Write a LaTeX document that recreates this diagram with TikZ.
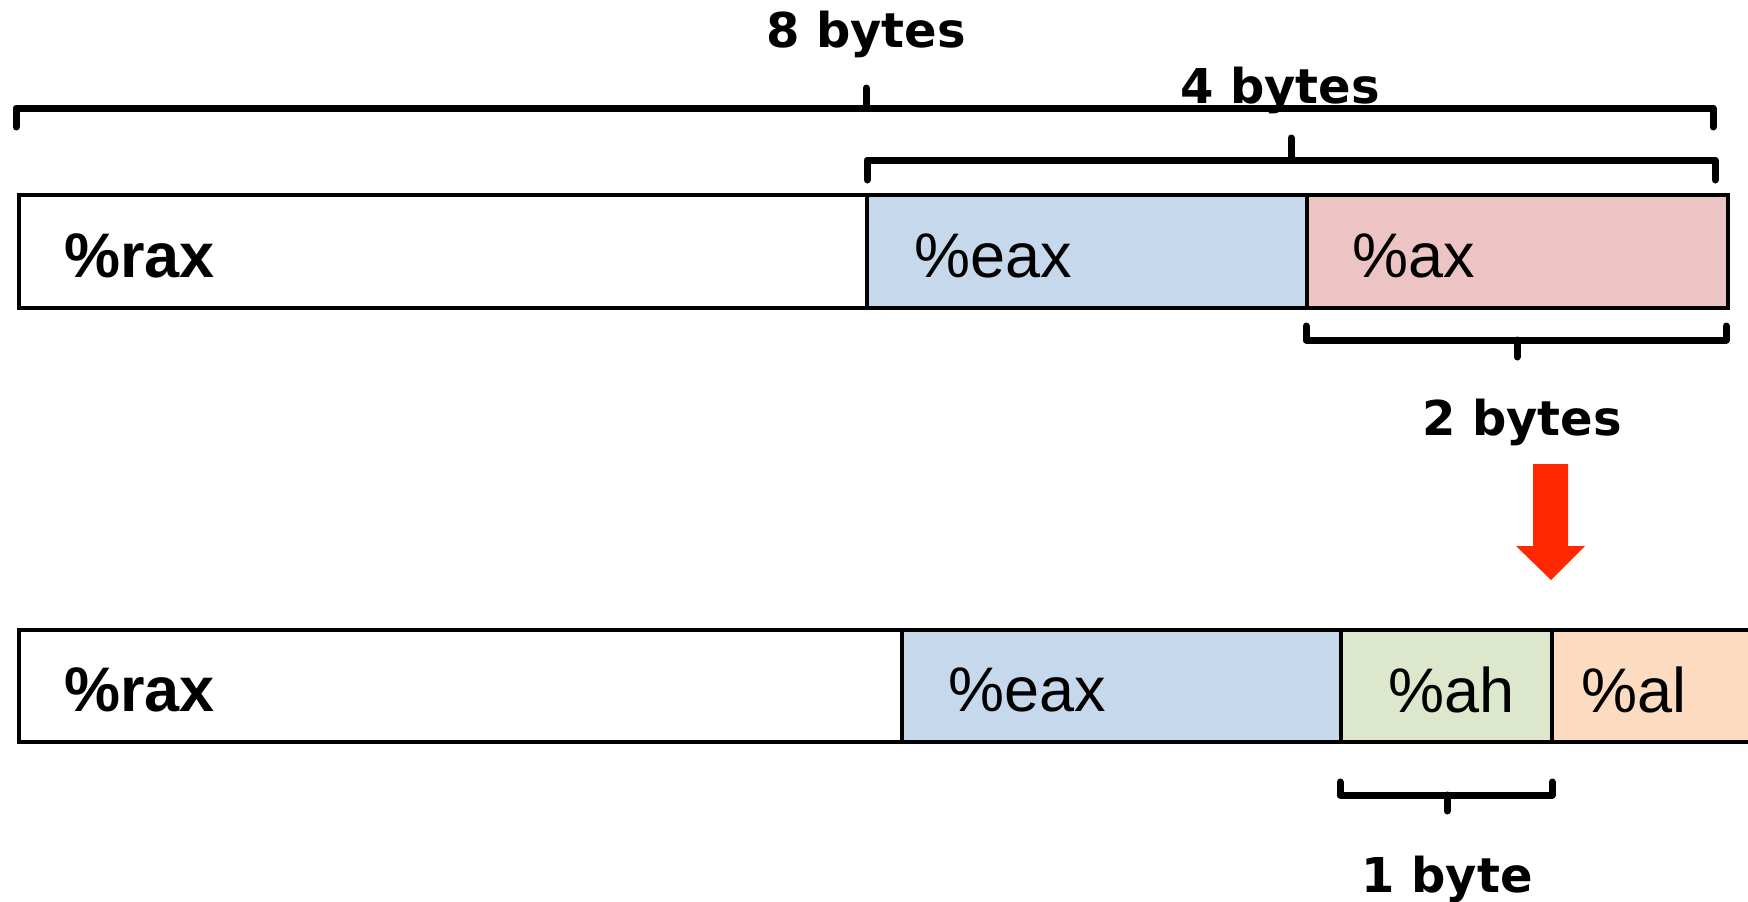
\documentclass[tikz,border=0pt]{standalone}
\usepackage{fontspec}
\newfontfamily\regfont{Liberation Sans}
\newfontfamily\bytefont{DejaVu Sans}
\usetikzlibrary{positioning}
\definecolor{eaxblue}{RGB}{198,217,236}
\definecolor{axpink}{RGB}{236,196,195}
\definecolor{ahgreen}{RGB}{221,231,203}
\definecolor{alpeach}{RGB}{252,219,192}
\definecolor{arrowred}{RGB}{255,40,0}

\begin{document}
\begin{tikzpicture}[x=1pt, y=-1pt,
    regbox/.style={draw, line width=4pt, outer sep=0pt, inner sep=0pt, anchor=north west, minimum height=113pt},
    reglabel/.style={inner sep=0pt, yshift=-4pt, font=\regfont\fontsize{63}{68}\selectfont},
    regbold/.style={inner sep=0pt, yshift=-4pt, font=\regfont\bfseries\fontsize{63}{68}\selectfont},
    bytelabel/.style={anchor=base, inner sep=0pt, font=\bytefont\bfseries\fontsize{48}{52}\selectfont},
    bytebrace/.style={line width=7pt, line cap=round, line join=round}]
    \useasboundingbox (0,0) rectangle (1748,902);

    % upper register
    \node [regbox, minimum width=848pt, fill=white] (raxTop) at (19,195) {};
    \node [regbox, minimum width=440pt, fill=eaxblue] (eaxTop) at (raxTop.north east) {};
    \node [regbox, minimum width=421pt, fill=axpink] (axTop) at (eaxTop.north east) {};
    \node [regbold, right=45pt of raxTop.west] (raxTopText) {\%rax};
    \node [reglabel, right=47pt of eaxTop.west] (eaxTopText) {\%eax};
    \node [reglabel, right=45pt of axTop.west] (axTopText) {\%ax};

    % sizes
    \node [bytelabel] (eightB) at (866,47) {8 bytes};
    \node [bytelabel] (fourB) at (1280,103) {4 bytes};
    \node [bytelabel] (twoB) at (1522,435) {2 bytes};
    \node [bytelabel] (oneB) at (1447,892) {1 byte};
    \draw [bytebrace] (16,127) -- (16,108) -- (1713,108) -- (1713,127) (866,108) -- (866,88);
    \draw [bytebrace] (867,180) -- (867,160) -- (1715,160) -- (1715,180) (1291,160) -- (1291,138);
    \draw [bytebrace] (1306,326) -- (1306,340) -- (1726,340) -- (1726,326) (1517,340) -- (1517,357);
    \draw [bytebrace] (1340,782) -- (1340,795) -- (1552,795) -- (1552,782) (1447,795) -- (1447,811);

    \fill [arrowred] (1533,464) -- (1568,464) -- (1568,546) -- (1585,546) -- (1551,580)
        -- (1516,546) -- (1533,546) -- cycle;

    % lower register
    \node [regbox, minimum width=883pt, minimum height=112pt, fill=white] (raxBot) at (19,630) {};
    \node [regbox, minimum width=439pt, minimum height=112pt, fill=eaxblue] (eaxBot) at (raxBot.north east) {};
    \node [regbox, minimum width=211pt, minimum height=112pt, fill=ahgreen] (ahBot) at (eaxBot.north east) {};
    \node [regbox, minimum width=220pt, minimum height=112pt, fill=alpeach] (alBot) at (ahBot.north east) {};
    \node [regbold, right=45pt of raxBot.west] (raxBotText) {\%rax};
    \node [reglabel, right=46pt of eaxBot.west] (eaxBotText) {\%eax};
    \node [reglabel, right=47pt of ahBot.west] (ahBotText) {\%ah};
    \node [reglabel, right=29pt of alBot.west] (alBotText) {\%al};
\end{tikzpicture}
\end{document}
